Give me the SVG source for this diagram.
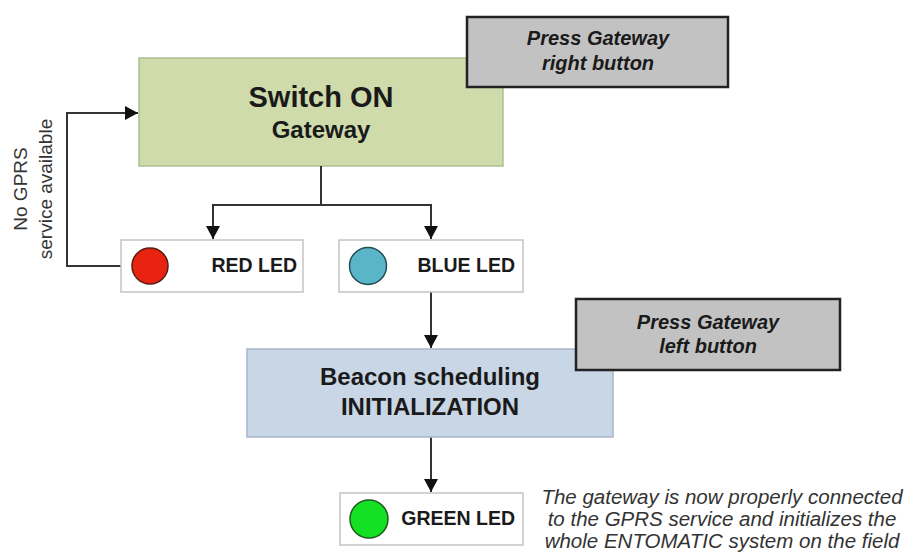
<svg xmlns="http://www.w3.org/2000/svg" width="906" height="552" viewBox="0 0 906 552">
<style>
text{font-family:"Liberation Sans",Arial,sans-serif;}
.b{font-weight:bold;fill:#1a1a1a;}
.note{fill:#c2c2c2;stroke:#222;stroke-width:2.5;}
.noteT{font-weight:bold;font-style:italic;font-size:20px;fill:#1a1a1a;text-anchor:middle;}
.led{fill:#fff;stroke:#c4c4c4;stroke-width:1.5;}
.ledT{font-weight:bold;font-size:19.5px;fill:#1a1a1a;text-anchor:end;}
.conn{fill:none;stroke:#333;stroke-width:2;}
.side{font-size:19px;fill:#333;text-anchor:middle;}
.para{font-style:italic;font-size:20.5px;fill:#333;text-anchor:middle;}
</style>
<defs>
<marker id="ah" markerUnits="userSpaceOnUse" markerWidth="14" markerHeight="14" viewBox="0 0 14 14" refX="13" refY="7" orient="auto">
<path d="M0,0 L13,7 L0,14 z" fill="#111"/>
</marker>
</defs>

<g id="switch-on">
<rect x="139" y="58" width="364" height="108" fill="#cfdbab" stroke="#afbf92" stroke-width="1.5"/>
<text class="b" x="321" y="107" font-size="29" text-anchor="middle">Switch ON</text>
<text class="b" x="321" y="138" font-size="24" text-anchor="middle">Gateway</text>
</g>

<g id="note-right">
<rect class="note" x="467" y="17" width="261" height="70"/>
<text class="noteT" x="598" y="45">Press Gateway</text>
<text class="noteT" x="598" y="70">right button</text>
</g>

<g id="connectors">
<polyline class="conn" points="321,166 321,205 213,205 213,239" marker-end="url(#ah)"/>
<polyline class="conn" points="321,205 431,205 431,239" marker-end="url(#ah)"/>
<polyline class="conn" points="121,266 67,266 67,113 138,113" marker-end="url(#ah)"/>
<line class="conn" x1="431" y1="292" x2="431" y2="348" marker-end="url(#ah)"/>
<line class="conn" x1="431" y1="437" x2="431" y2="492" marker-end="url(#ah)"/>
</g>

<g id="no-gprs-label">
<text class="side" transform="translate(27,189) rotate(-90)">No GPRS</text>
<text class="side" transform="translate(52,189) rotate(-90)">service available</text>
</g>

<g id="red-led">
<rect class="led" x="121" y="240" width="182" height="52"/>
<circle cx="150" cy="266" r="18" fill="#e8230f" stroke="#5b1c12" stroke-width="1.5"/>
<text class="ledT" x="297" y="272">RED LED</text>
</g>

<g id="blue-led">
<rect class="led" x="339" y="240" width="184" height="52"/>
<circle cx="368" cy="266" r="18.5" fill="#5bb5c9" stroke="#214c56" stroke-width="1.5"/>
<text class="ledT" x="515" y="272">BLUE LED</text>
</g>

<g id="beacon">
<rect x="247" y="349" width="366" height="88" fill="#c9d6e6" stroke="#a7b7ca" stroke-width="1.5"/>
<text class="b" x="430" y="385" font-size="24" text-anchor="middle">Beacon scheduling</text>
<text class="b" x="430" y="415" font-size="24" text-anchor="middle">INITIALIZATION</text>
</g>

<g id="note-left">
<rect class="note" x="576" y="299" width="264" height="71"/>
<text class="noteT" x="708" y="329">Press Gateway</text>
<text class="noteT" x="708" y="353">left button</text>
</g>

<g id="green-led">
<rect class="led" x="340" y="493" width="183" height="52"/>
<circle cx="369" cy="519" r="19" fill="#14e024" stroke="#1f5a1f" stroke-width="1.5"/>
<text class="ledT" x="515" y="525">GREEN LED</text>
</g>

<g id="result-note">
<text class="para" x="722" y="504">The gateway is now properly connected</text>
<text class="para" x="722" y="526">to the GPRS service and initializes the</text>
<text class="para" x="722" y="548">whole ENTOMATIC system on the field</text>
</g>
</svg>
